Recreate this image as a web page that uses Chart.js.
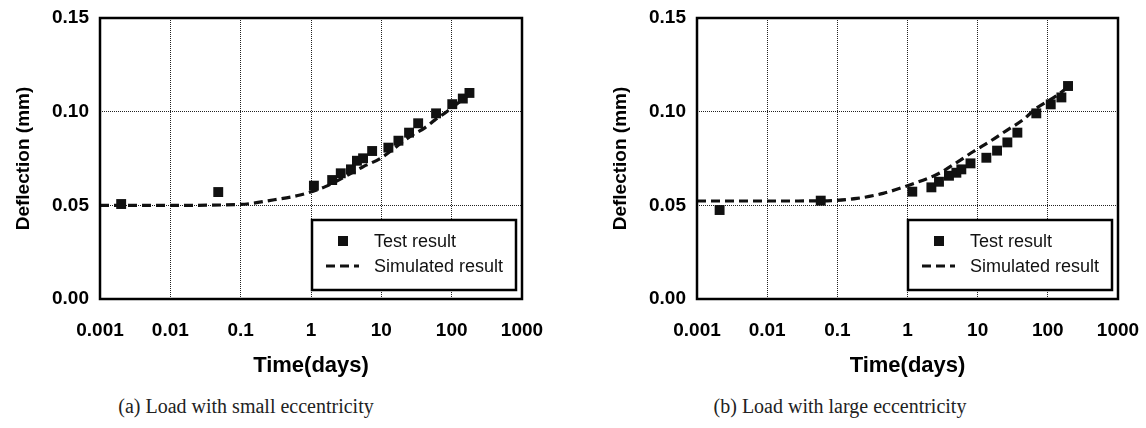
<!DOCTYPE html>
<html lang="en">
<head>
  <meta charset="UTF-8" />
  <title>Deflection vs time</title>
  <script src="https://cdn.jsdelivr.net/npm/chart.js"></script>
  <style>
    body { margin: 0; background: #fff; }
    #page { position: relative; width: 1146px; height: 428px; overflow: hidden; }
    canvas { position: absolute; top: 0; }
    .caption {
      position: absolute; top: 395px; width: 400px; text-align: center;
      font-family: "Liberation Serif", "DejaVu Serif", serif; font-size: 20px; color: #222;
    }
  </style>
</head>
<body>
<div id="page">
  <canvas id="chartA" width="560" height="385" style="left:0px"></canvas>
  <canvas id="chartB" width="549" height="385" style="left:597px"></canvas>
  <div class="caption" style="left:46px">(a) Load with small eccentricity</div>
  <div class="caption" style="left:640px">(b) Load with large eccentricity</div>
</div>

<script>
  // axis ticks
  const xTicks = [0.001, 0.01, 0.1, 1, 10, 100, 1000];
  const xTickLabels = ["0.001", "0.01", "0.1", "1", "10", "100", "1000"];
  const yTicks = [0, 0.05, 0.10, 0.15];
  const yTickLabels = ["0.00", "0.05", "0.10", "0.15"];

  // (a) small eccentricity
  const testTimeA = [0.002, 0.048, 1.1, 2.0, 2.65, 3.7, 4.5, 5.5, 7.4, 12.6, 17.5, 24.8, 33.4, 60, 102, 144, 179];
  const testDefA  = [0.0507, 0.0571, 0.0605, 0.0635, 0.0671, 0.0692, 0.0738, 0.0751, 0.0790, 0.0808, 0.0845, 0.0888, 0.0938, 0.0991, 0.104, 0.107, 0.110];
  const simTimeA  = [0.001, 0.01, 0.1, 0.3, 0.7, 1.6, 5.5, 9.6, 25.7, 42, 58, 85, 175];
  const simDefA   = [0.0500, 0.0500, 0.0505, 0.0530, 0.0555, 0.0600, 0.0706, 0.0750, 0.0868, 0.0915, 0.0956, 0.1000, 0.1090];

  // (b) large eccentricity
  const testTimeB = [0.0021, 0.058, 1.17, 2.19, 2.81, 3.9, 4.97, 5.85, 7.9, 13.3, 18.9, 26.5, 36.8, 68.5, 110, 156, 194];
  const testDefB  = [0.0475, 0.0525, 0.0573, 0.0596, 0.0626, 0.0658, 0.0674, 0.0692, 0.0724, 0.0754, 0.0792, 0.0836, 0.0888, 0.0991, 0.1039, 0.1076, 0.1137];
  const simTimeB  = [0.001, 0.01, 0.06, 0.19, 0.45, 1, 2.7, 5, 8.6, 14.8, 25.7, 44, 68.5, 132, 194];
  const simDefB   = [0.0523, 0.0523, 0.0524, 0.0537, 0.0564, 0.0605, 0.0667, 0.0728, 0.0786, 0.0840, 0.0899, 0.0956, 0.1018, 0.1084, 0.1133];

  Chart.defaults.color = "#000";
  Chart.defaults.font.family = '"Liberation Sans", Arial, sans-serif';

  // black box around the plot area
  const frame = {
    id: "frame",
    afterDraw(chart) {
      const { ctx, chartArea: a } = chart;
      ctx.save();
      ctx.lineWidth = 2.5;
      ctx.strokeStyle = "#000";
      ctx.strokeRect(a.left, a.top, a.right - a.left, a.bottom - a.top);
      ctx.restore();
    }
  };

  // boxed legend in the lower right corner
  const boxLegend = {
    id: "boxLegend",
    afterDatasetsDraw(chart) {
      const { ctx, chartArea: a } = chart;
      const w = 204, h = 70;
      const x = a.right - 6 - w, y = a.bottom - 9 - h;
      ctx.save();
      ctx.fillStyle = "#fff";
      ctx.fillRect(x, y, w, h);
      ctx.lineWidth = 2.5;
      ctx.strokeStyle = "#000";
      ctx.strokeRect(x, y, w, h);
      chart.data.datasets.forEach((ds, i) => {
        const cy = y + 21 + i * 25;
        if (ds.showLine) {
          ctx.setLineDash(ds.borderDash);
          ctx.lineWidth = ds.borderWidth;
          ctx.strokeStyle = ds.borderColor;
          ctx.beginPath();
          ctx.moveTo(x + 14, cy);
          ctx.lineTo(x + 47, cy);
          ctx.stroke();
          ctx.setLineDash([]);
        } else {
          ctx.fillStyle = ds.backgroundColor;
          ctx.fillRect(x + 26, cy - 5, 10, 10);
        }
        ctx.fillStyle = "#111";
        ctx.font = '18px "Liberation Sans", Arial, sans-serif';
        ctx.textBaseline = "middle";
        ctx.fillText(ds.label, x + 62, cy + 1);
      });
      ctx.restore();
    }
  };

  function makeChart(id, tT, tD, sT, sD, rightPad) {
    return new Chart(document.getElementById(id), {
      type: "scatter",
      data: {
        datasets: [
          {
            label: "Test result",
            data: tT.map((t, i) => ({ x: t, y: tD[i] })),
            pointStyle: "rect",
            pointRadius: 7,
            pointBorderWidth: 0,
            backgroundColor: "#111",
            borderColor: "#111",
            order: 2
          },
          {
            label: "Simulated result",
            data: sT.map((t, i) => ({ x: t, y: sD[i] })),
            showLine: true,
            pointRadius: 0,
            borderColor: "#111",
            borderWidth: 3.2,
            borderDash: [9, 5],
            cubicInterpolationMode: "monotone",
            order: 1
          }
        ]
      },
      options: {
        responsive: false,
        animation: false,
        layout: { padding: { left: 0, top: 18, right: rightPad, bottom: 0 } },
        plugins: { legend: { display: false }, tooltip: { enabled: false } },
        scales: {
          x: {
            type: "logarithmic",
            min: 0.001,
            max: 1000,
            afterBuildTicks: s => { s.ticks = xTicks.map(v => ({ value: v })); },
            afterFit: s => { s.height = 86; },
            ticks: {
              autoSkip: false,
              maxRotation: 0,
              padding: 0,
              font: { size: 19, weight: "bold" },
              callback: (v, i) => xTickLabels[i]
            },
            // invisible tick marks give the label offset without widening the side padding
            grid: { color: "#222", lineWidth: 1, drawTicks: true, tickLength: 20, tickColor: "rgba(0,0,0,0)" },
            border: { display: false, dash: [1, 1] },
            title: {
              display: true,
              text: "Time(days)",
              font: { size: 22, weight: "bold" },
              padding: { top: 0, bottom: 6 }
            }
          },
          y: {
            min: 0,
            max: 0.15,
            afterBuildTicks: s => { s.ticks = yTicks.map(v => ({ value: v })); },
            afterFit: s => { s.width = 100; },
            ticks: {
              padding: 0,
              font: { size: 19, weight: "bold" },
              callback: (v, i) => yTickLabels[i]
            },
            grid: { color: "#222", lineWidth: 1, drawTicks: true, tickLength: 11, tickColor: "rgba(0,0,0,0)" },
            border: { display: false, dash: [1, 1] },
            title: {
              display: true,
              text: "Deflection (mm)",
              font: { size: 19, weight: "bold" },
              padding: { top: 12, bottom: 0 }
            }
          }
        }
      },
      plugins: [boxLegend, frame]
    });
  }

  makeChart("chartA", testTimeA, testDefA, simTimeA, simDefA, 38);
  makeChart("chartB", testTimeB, testDefB, simTimeB, simDefB, 28);
</script>
</body>
</html>
